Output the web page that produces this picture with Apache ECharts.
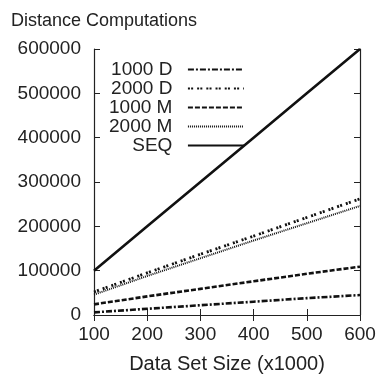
<!DOCTYPE html>
<html>
<head>
<meta charset="utf-8">
<script src="https://cdn.jsdelivr.net/npm/echarts@6/dist/echarts.min.js"></script>
<style>
  html, body { margin: 0; padding: 0; background: #fff; }
  #chart { width: 379px; height: 376px; }
</style>
</head>
<body>
<div id="chart"></div>
<script>
// data set sizes (x1000)
const sizes = [100, 200, 300, 400, 500, 600];

const d1000 = [6000, 14000, 22000, 30000, 38000, 45000];
const d2000 = [52000, 95000, 137000, 178000, 220000, 262000];
const m1000 = [24000, 42000, 59000, 76000, 93000, 109000];
const m2000 = [46000, 88000, 128000, 168000, 207000, 246000];
const seq = [100000, 200000, 300000, 400000, 500000, 600000];

const names = ['1000 D', '2000 D', '1000 M', '2000 M', 'SEQ'];
const font = 'Liberation Sans, Arial, sans-serif';

const chart = echarts.init(document.getElementById('chart'));

function mk(name, vals, type, width) {
  return {
    name: name,
    type: 'line',
    data: sizes.map((s, i) => [s, vals[i]]),
    symbol: 'none',
    lineStyle: { color: '#111', width: width, type: type },
    itemStyle: { color: '#111' }
  };
}

const tickStyle = { show: true, inside: true, length: 6, lineStyle: { color: '#222' } };

chart.setOption({
  animation: false,
  title: {
    text: 'Distance Computations',
    left: 6, top: 7,
    textStyle: { fontFamily: font, fontSize: 18, fontWeight: 'normal', color: '#222' }
  },
  grid: { left: 94, right: 19, top: 49, bottom: 61, outerBoundsMode: 'none' },
  legend: {
    data: names,
    orient: 'vertical',
    left: 104, top: 55,
    align: 'right',
    itemWidth: 56, itemHeight: 12, itemGap: 0,
    itemStyle: { opacity: 0 },
    formatter: n => n + '  ',
    textStyle: { fontFamily: font, fontSize: 19, color: '#222', lineHeight: 16 }
  },
  xAxis: [{
    type: 'value', min: 100, max: 600, interval: 100,
    name: 'Data Set Size (x1000)', nameLocation: 'middle', nameGap: 39,
    nameTextStyle: { fontFamily: font, fontSize: 20, color: '#222' },
    axisLine: { lineStyle: { color: '#222', width: 1.2 } },
    axisTick: tickStyle,
    axisLabel: { fontFamily: font, fontSize: 19, color: '#222', margin: 10 },
    splitLine: { show: false }
  }, {
    type: 'value', position: 'top', min: 100, max: 600, interval: 100,
    axisLine: { show: true, lineStyle: { color: '#222', width: 1.2 } },
    axisTick: tickStyle, axisLabel: { show: false }, splitLine: { show: false }
  }],
  yAxis: [{
    type: 'value', min: 0, max: 600000, interval: 100000,
    axisLine: { show: true, lineStyle: { color: '#222', width: 1.2 } },
    axisTick: tickStyle,
    axisLabel: { fontFamily: font, fontSize: 19, color: '#222', margin: 13, formatter: v => String(v) },
    splitLine: { show: false }
  }, {
    type: 'value', position: 'right', min: 0, max: 600000, interval: 100000,
    axisLine: { show: true, lineStyle: { color: '#222', width: 1.2 } },
    axisTick: tickStyle, axisLabel: { show: false }, splitLine: { show: false }
  }],
  series: [
    mk('1000 D', d1000, [6, 2, 2, 2], 2.6),
    mk('2000 D', d2000, [2, 1.2, 2, 4], 2.8),
    mk('1000 M', m1000, [5, 2], 2.6),
    mk('2000 M', m2000, [1, 1], 2),
    mk('SEQ', seq, 'solid', 2.6)
  ]
});
</script>
</body>
</html>
